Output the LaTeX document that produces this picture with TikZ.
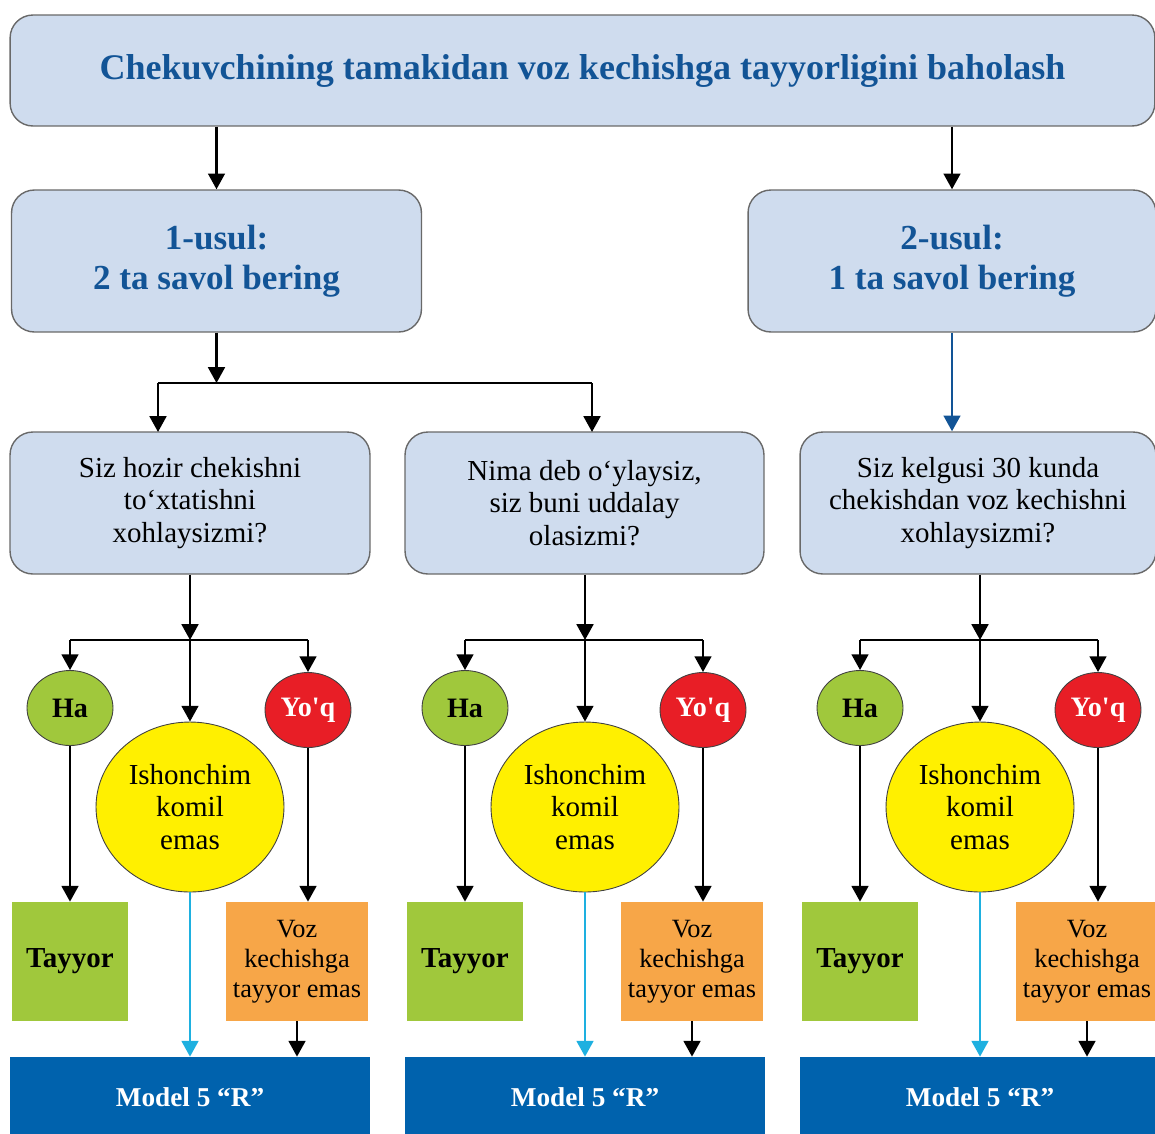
\documentclass[tikz,border=0pt]{standalone}
\usepackage{fontspec}
\setmainfont{Liberation Serif}
\usetikzlibrary{arrows.meta,shapes.geometric}

\definecolor{boxfill}{RGB}{207,220,238}
\definecolor{boxline}{RGB}{105,105,105}
\definecolor{titleblue}{RGB}{18,84,150}
\definecolor{hagreen}{RGB}{160,200,60}
\definecolor{yoqred}{RGB}{232,30,38}
\definecolor{unsureyellow}{RGB}{255,240,0}
\definecolor{notready}{RGB}{247,166,72}
\definecolor{modelblue}{RGB}{0,98,173}
\definecolor{cyanline}{RGB}{30,176,224}

\tikzset{
  bluebox/.style={draw=boxline, fill=boxfill, rounded corners=13pt, line width=0.8pt,
    align=center, inner sep=0pt},
  titlebox/.style={bluebox, text=titleblue, font=\bfseries\fontsize{20.5}{24}\selectfont},
  usulbox/.style={bluebox, text=titleblue, font=\bfseries\fontsize{20}{23}\selectfont,
    minimum width=8.2cm, minimum height=2.84cm},
  qbox/.style={bluebox, font=\fontsize{16.5}{18.7}\selectfont, minimum height=2.84cm},
  answer/.style={ellipse, draw=black!75, line width=0.5pt, inner sep=0pt,
    minimum width=1.72cm, minimum height=1.5cm, font=\bfseries\fontsize{16}{18}\selectfont},
  ha/.style={answer, fill=hagreen},
  yoq/.style={answer, fill=yoqred, text=white},
  unsure/.style={ellipse, draw=black!75, line width=0.5pt, fill=unsureyellow, inner sep=0pt,
    minimum width=3.76cm, minimum height=3.4cm, align=center,
    font=\fontsize{16.5}{18.7}\selectfont},
  ready/.style={fill=hagreen, minimum width=2.32cm, minimum height=2.38cm,
    font=\bfseries\fontsize{16.5}{18}\selectfont},
  notready/.style={fill=notready, minimum width=2.84cm, minimum height=2.38cm, align=center,
    inner sep=0pt, font=\fontsize{15}{17}\selectfont},
  model/.style={fill=modelblue, text=white, minimum width=7.2cm, minimum height=1.6cm,
    font=\bfseries\fontsize{15.5}{18}\selectfont},
  arr/.style={-{Triangle[length=9pt,width=9.5pt]}, line width=1.5pt},
  link/.style={line width=1.5pt}
}

\begin{document}
\begin{tikzpicture}[x=0.02cm, y=-0.02cm]
\useasboundingbox (0,0) rectangle (1155,1133);
\clip (0,0) rectangle (1155,1133);

% top level
\node[titlebox, minimum width=22.9cm, minimum height=2.22cm] (top) at (582.5,70.5)
  {Chekuvchining tamakidan voz kechishga tayyorligini baholash};
\node[usulbox] (usul1) at (216.5,261) {1-usul:\\2 ta savol bering};
\node[usulbox, minimum width=8.16cm] (usul2) at (952,261) {2-usul:\\1 ta savol bering};

\draw[arr] (top.south -| usul1) -- (usul1.north);
\draw[arr] (top.south -| usul2) -- (usul2.north);

% questions
\node[qbox, minimum width=7.2cm] (qa) at (190,503)
  {Siz hozir chekishni\\to‘xtatishni\\xohlaysizmi?};
\node[qbox, minimum width=7.18cm] (qb) at (584.5,503)
  {Nima deb o‘ylaysiz,\\siz buni uddalay\\olasizmi?};
\node[qbox, minimum width=7.12cm] (qc) at (978,503)
  {Siz kelgusi 30 kunda\\chekishdan voz kechishni\\xohlaysizmi?};

\coordinate (usplit) at (216.5,383);
\draw[arr] (usul1.south) -- (usplit);
\draw[link] (158,383) -- (592,383);
\draw[arr] (158,383) -- (158,432);
\draw[arr] (592,383) -- (592,432);
\draw[arr, titleblue] (usul2.south) -- (usul2.south |- qc.north);

% answers under each question
\foreach \col/\dx in {a/0, b/395, c/790} {
  \coordinate (\col-split) at (190+\dx,640);
  \node[ha] (\col-ha) at (70+\dx,708) {Ha};
  \node[yoq] (\col-yoq) at (308+\dx,710) {Yo\textquotesingle q};
  \node[unsure] (\col-un) at (190+\dx,807) {Ishonchim\\komil\\emas};
  \node[ready] (\col-ready) at (70+\dx,961.5) {Tayyor};
  \node[notready] (\col-nr) at (297+\dx,961.5) {Voz\\kechishga\\tayyor emas};
  \node[model] (\col-model) at (190+\dx,1097) {Model 5 “R”};

  \draw[arr] (q\col.south -| \col-split) -- (\col-split);
  \draw[link] (\col-ha.north |- \col-split) -- (\col-yoq.north |- \col-split);
  \draw[arr] (\col-ha.north |- \col-split) -- (\col-ha.north);
  \draw[arr] (\col-yoq.north |- \col-split) -- (\col-yoq.north);
  \draw[arr] (\col-split) -- (\col-un.north);
  \draw[arr] (\col-ha.south) -- (\col-ready.north);
  \draw[arr] (\col-yoq.south) -- (\col-yoq.south |- \col-nr.north);
  \draw[arr, cyanline] (\col-un.south) -- (\col-un.south |- \col-model.north);
  \draw[arr] (\col-nr.south) -- (\col-nr.south |- \col-model.north);
}
\end{tikzpicture}
\end{document}
